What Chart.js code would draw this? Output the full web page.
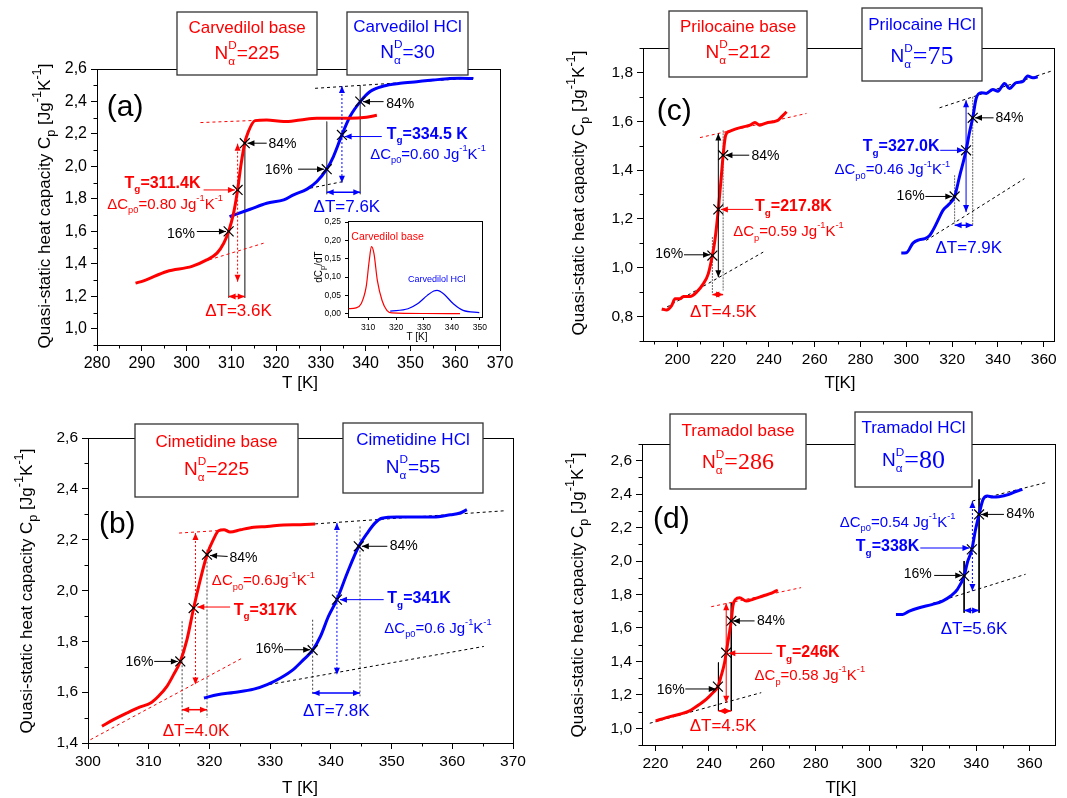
<!DOCTYPE html>
<html lang="en">
<head>
<meta charset="UTF-8">
<title>Quasi-static heat capacity of drugs</title>
<script src="https://cdn.jsdelivr.net/npm/chart.js"></script>
<style>
  body { margin:0; background:#fff; width:1067px; height:798px; overflow:hidden; position:relative; }
  .panel { position:absolute; }
</style>
</head>
<body>
<div class="panel" style="left:0;top:0;width:533px;height:400px"><canvas id="chartA"></canvas></div>
<div class="panel" style="left:305px;top:212px;width:185px;height:135px"><canvas id="inset"></canvas></div>
<div class="panel" style="left:533px;top:0;width:534px;height:400px"><canvas id="chartC"></canvas></div>
<div class="panel" style="left:0;top:400px;width:533px;height:398px"><canvas id="chartB"></canvas></div>
<div class="panel" style="left:533px;top:400px;width:534px;height:398px"><canvas id="chartD"></canvas></div>
<script>
// ---- values ----
// (a) Carvedilol
const carvBaseT  = [288.6,290.4,295.6,301.2,304.5,306.8,308.3,309.4,310.5,311.4,312.1,313.0,313.8,315.3,317.9,321.7,325.4,329.1,332.8,336.5,340.2,342.5];
const carvBaseCp = [1.281,1.295,1.353,1.384,1.424,1.466,1.527,1.600,1.712,1.855,2.000,2.143,2.214,2.282,2.286,2.276,2.286,2.296,2.296,2.296,2.303,2.315];
const carvHclT   = [309.6,314.2,317.9,321.7,323.9,326.9,329.1,331.3,332.8,334.7,336.5,338.8,341.0,344.0,347.7,351.4,355.1,358.8,361.1,364.0];
const carvHclCp  = [1.691,1.736,1.773,1.794,1.825,1.860,1.907,1.983,2.061,2.194,2.307,2.399,2.461,2.495,2.512,2.522,2.532,2.541,2.543,2.541];
const carvBaseMarkT = [309.4,311.4,313.0], carvBaseMarkCp = [1.600,1.855,2.143];
const carvHclMarkT  = [331.3,334.7,338.8], carvHclMarkCp  = [1.983,2.194,2.399];
const carvBaseTanHi = [[303.1,2.270],[316.0,2.284]], carvBaseTanLo = [[303.8,1.414],[317.2,1.527]];
const carvHclTanHi  = [[328.7,2.481],[364.4,2.545]], carvHclTanLo  = [[327.6,1.866],[335.0,1.907]];
// (a) inset dCp/dT
const insetBaseT = [302.8,305.7,307.5,309.3,310.4,311.2,312.1,313.3,315.0,316.7,318.5,330.0,342.9];
const insetBaseD = [0.0136,0.016,0.027,0.073,0.145,0.183,0.164,0.091,0.036,0.009,0.002,0.0005,0.0];
const insetHclT  = [317.9,324.3,327.7,331.2,333.5,334.7,337.0,340.5,344.0,349.8];
const insetHclD  = [0.007,0.0136,0.027,0.050,0.0618,0.0636,0.0545,0.027,0.009,0.003];
// (b) Cimetidine
const cimBaseT  = [302.3,304.2,306.4,308.6,310.3,311.6,313.0,314.1,315.2,316.3,317.4,318.5,319.6,320.7,321.5,322.4,323.4,325.1,327.3,329.5,332.2,335.0,337.4];
const cimBaseCp = [1.466,1.492,1.518,1.542,1.557,1.584,1.623,1.669,1.721,1.807,1.931,2.043,2.141,2.203,2.235,2.239,2.230,2.239,2.249,2.252,2.258,2.259,2.262];
const cimHclT   = [319.1,321.3,324.0,327.3,329.5,331.7,333.9,335.5,337.0,338.3,339.6,341.0,342.7,344.6,346.0,347.3,348.4,350.9,353.7,356.9,359.7,361.3,362.4];
const cimHclCp  = [1.577,1.590,1.599,1.612,1.630,1.656,1.691,1.728,1.765,1.820,1.898,1.964,2.069,2.174,2.226,2.266,2.284,2.289,2.289,2.289,2.298,2.305,2.318];
const cimBaseMarkT = [315.2,317.4,319.6], cimBaseMarkCp = [1.721,1.931,2.141];
const cimHclMarkT  = [337.0,341.0,344.6], cimHclMarkCp  = [1.765,1.964,2.174];
const cimBaseTanHi = [[315.0,2.226],[323.0,2.238]], cimBaseTanLo = [[300.4,1.413],[325.4,1.734]];
const cimHclTanHi  = [[337.4,2.262],[368.8,2.314]], cimHclTanLo  = [[328.9,1.626],[365.2,1.780]];
// (c) Prilocaine
const priBaseT  = [193.2,195.3,197.5,199.0,201.2,202.6,205.5,208.4,211.3,213.5,215.3,216.4,217.9,219.3,220.0,221.1,222.9,225.9,228.8,231.7,233.9,236.0,238.9,241.9,244.0,245.5,247.7];
const priBaseCp = [0.831,0.827,0.845,0.873,0.873,0.882,0.882,0.900,0.934,0.975,1.050,1.112,1.239,1.385,1.461,1.543,1.559,1.570,1.577,1.584,1.595,1.584,1.593,1.598,1.604,1.618,1.639];
const priHclT   = [297.8,300.0,302.9,305.8,308.0,310.2,311.6,313.8,316.0,318.2,321.1,323.2,326.1,327.6,329.0,330.5,332.7,334.9,337.8,340.0,342.9,345.0,348.0,350.8,353.0,355.2,357.4];
const priHclCp  = [1.060,1.061,1.101,1.115,1.119,1.132,1.153,1.194,1.235,1.256,1.292,1.372,1.481,1.555,1.614,1.693,1.717,1.714,1.730,1.723,1.755,1.734,1.758,1.762,1.785,1.778,1.782];
const priBaseMarkT = [215.3,217.9,220.0], priBaseMarkCp = [1.050,1.239,1.461];
const priHclMarkT  = [321.1,326.1,329.0], priHclMarkCp  = [1.292,1.481,1.614];
const priBaseTanHi = [[209.9,1.533],[256.4,1.632]], priBaseTanLo = [[193.2,0.827],[237.5,1.064]];
const priHclTanHi  = [[314.5,1.655],[363.2,1.805]], priHclTanLo  = [[308.7,1.112],[351.6,1.365]];
// (d) Tramadol
const traBaseT  = [220.1,224.1,229.1,232.8,236.6,239.0,241.5,243.4,244.6,245.9,246.5,247.5,248.4,249.0,250.0,251.5,254.0,256.5,260.2,263.9,265.8];
const traBaseCp = [1.044,1.064,1.084,1.104,1.144,1.173,1.213,1.249,1.313,1.393,1.452,1.552,1.642,1.731,1.771,1.781,1.761,1.771,1.791,1.811,1.827];
const traHclT   = [310.0,312.5,315.0,318.7,323.7,327.4,330.5,333.0,335.5,336.7,338.4,339.8,341.1,342.6,344.2,346.1,348.5,352.3,355.4,357.3];
const traHclCp  = [1.681,1.681,1.701,1.721,1.741,1.761,1.791,1.831,1.911,1.990,2.070,2.190,2.279,2.369,2.389,2.383,2.385,2.399,2.419,2.429];
const traBaseMarkT = [243.4,246.5,248.4], traBaseMarkCp = [1.249,1.452,1.642];
const traHclMarkT  = [335.5,338.4,341.1], traHclMarkCp  = [1.911,2.070,2.279];
const traBaseTanHi = [[240.9,1.727],[274.5,1.841]], traBaseTanLo = [[217.9,1.030],[259.6,1.213]];
const traHclTanHi  = [[338.6,2.359],[366.0,2.469]], traHclTanLo  = [[323.7,1.747],[358.5,1.921]];
// tick labels
const xTicksA = [280,290,300,310,320,330,340,350,360,370], yTicksA = [1.0,1.2,1.4,1.6,1.8,2.0,2.2,2.4,2.6];
const xTicksB = [300,310,320,330,340,350,360,370],         yTicksB = [1.4,1.6,1.8,2.0,2.2,2.4,2.6];
const xTicksC = [200,220,240,260,280,300,320,340,360],     yTicksC = [0.8,1.0,1.2,1.4,1.6,1.8];
const xTicksD = [220,240,260,280,300,320,340,360],         yTicksD = [1.0,1.2,1.4,1.6,1.8,2.0,2.2,2.4,2.6];
const insetXTicks = [310,320,330,340,350], insetYTicks = [0,0.05,0.10,0.15,0.20,0.25];

const FONT = '"Liberation Sans", Arial, sans-serif';
const SERIF = '"Liberation Serif", "Times New Roman", serif';
const RED = '#ff0000', BLUE = '#0000ff';

// ---- small rich-text helper: T_{g}, Jg^{-1}, N^{D}_{α}, '|' switches to serif ----
function parseRich(str) {
  const segs = []; let buf = '', serif = false, i = 0;
  const push = () => { if (buf) { segs.push({ t: buf, m: 'n', serif }); buf = ''; } };
  while (i < str.length) {
    const c = str[i];
    if ((c === '_' || c === '^') && str[i + 1] === '{') {
      push();
      const j = str.indexOf('}', i);
      segs.push({ t: str.slice(i + 2, j), m: c === '_' ? 'sub' : 'sup', serif });
      i = j + 1; continue;
    }
    if (c === '|') { push(); serif = true; i++; continue; }
    buf += c; i++;
  }
  push();
  return segs;
}
function drawRich(ctx, str, x, y, o) {
  ctx.save();
  ctx.translate(x, y);
  if (o.rot) ctx.rotate(o.rot);
  let cx = 0, sup = null;
  const items = [];
  parseRich(str).forEach(s => {
    const base = s.serif ? (o.serifSize || o.size) : o.size;
    const sz = s.m === 'n' ? base : base * (o.subScale || 0.62);
    const font = (o.bold ? 'bold ' : '') + sz + 'px ' + (s.serif ? SERIF : FONT);
    ctx.font = font;
    const w = ctx.measureText(s.t).width;
    let sx = cx;
    if (s.m === 'sub' && sup) sx = sup.x;
    const dy = s.m === 'sub' ? o.size * 0.4 : s.m === 'sup' ? -o.size * 0.42 : 0;
    items.push({ t: s.t, x: sx, dy, font });
    if (s.m === 'sub' && sup) { cx = Math.max(sup.end, sx + w); sup = null; }
    else { cx = sx + w; sup = s.m === 'sup' ? { x: sx, end: sx + w } : null; }
  });
  const x0 = o.align === 'center' ? -cx / 2 : o.align === 'right' ? -cx : 0;
  ctx.fillStyle = o.color || '#000';
  ctx.textBaseline = 'middle';
  ctx.textAlign = 'left';
  items.forEach(it => { ctx.font = it.font; ctx.fillText(it.t, x0 + it.x, it.dy); });
  ctx.restore();
}
function drawArrow(ctx, x1, y1, x2, y2, color, w, dash, both) {
  const a = Math.atan2(y2 - y1, x2 - x1), L = 7, H = 3;
  ctx.save();
  ctx.strokeStyle = color; ctx.fillStyle = color; ctx.lineWidth = w;
  ctx.setLineDash(dash || []);
  ctx.beginPath(); ctx.moveTo(x1, y1); ctx.lineTo(x2, y2); ctx.stroke();
  ctx.setLineDash([]);
  const head = (x, y, t) => {
    ctx.beginPath(); ctx.moveTo(x, y);
    ctx.lineTo(x - L * Math.cos(t) + H * Math.sin(t), y - L * Math.sin(t) - H * Math.cos(t));
    ctx.lineTo(x - L * Math.cos(t) - H * Math.sin(t), y - L * Math.sin(t) + H * Math.cos(t));
    ctx.closePath(); ctx.fill();
  };
  head(x2, y2, a);
  if (both) head(x1, y1, a + Math.PI);
  ctx.restore();
}

const xy = (ts, ys) => ts.map((t, i) => ({ x: t, y: ys[i] }));

function deco(p) {
  return {
    id: 'deco',
    afterDraw(chart) {
      const ctx = chart.ctx, a = chart.chartArea, X = chart.scales.x, Y = chart.scales.y;
      const px = v => X.getPixelForValue(v), py = v => Y.getPixelForValue(v);
      ctx.save();
      ctx.strokeStyle = '#000'; ctx.lineWidth = 1;
      ctx.strokeRect(Math.round(a.left) + 0.5, Math.round(a.top) + 0.5, Math.round(a.right - a.left), Math.round(a.bottom - a.top));
      // minor ticks
      ctx.beginPath();
      if (p.xMinor) for (let v = Math.ceil(p.x[0] / p.xMinor) * p.xMinor; v <= p.x[1] + 1e-9; v += p.xMinor) {
        if (p.xt.some(m => Math.abs(m - v) < 1e-6)) continue;
        const xx = Math.round(px(v)) + 0.5; ctx.moveTo(xx, a.bottom); ctx.lineTo(xx, a.bottom + 3.5);
      }
      if (p.yMinor) for (let v = Math.ceil(p.y[0] / p.yMinor - 1e-6) * p.yMinor; v <= p.y[1] + 1e-9; v += p.yMinor) {
        if (p.yt.some(m => Math.abs(m - v) < 1e-6)) continue;
        const yy = Math.round(py(v)) + 0.5; ctx.moveTo(a.left, yy); ctx.lineTo(a.left - 3.5, yy);
      }
      ctx.stroke();
      p.notes.forEach(n => {
        if (n.k === 'arrow') drawArrow(ctx, px(n.a[0]), py(n.a[1]), px(n.b[0]), py(n.b[1]), n.c || '#000', n.w || 1, n.dash, n.both);
        else drawRich(ctx, n.s, px(n.x), py(n.y), { size: n.size || 15, bold: n.bold, color: n.c || '#000', align: n.al || 'left' });
      });
      p.boxes.forEach(b => {
        const [l, t, r, bt] = b.r;
        ctx.fillStyle = '#fff'; ctx.fillRect(l, t, r - l, bt - t);
        ctx.strokeStyle = '#333'; ctx.lineWidth = 1.3; ctx.strokeRect(l, t, r - l, bt - t);
        drawRich(ctx, b.name, (l + r) / 2, b.ny[0], { size: 17, color: b.c, align: 'center' });
        drawRich(ctx, b.n, (l + r) / 2, b.ny[1], { size: 19, color: b.c, align: 'center', serifSize: b.ss });
      });
      const ts = p.titleSize || 17;
      drawRich(ctx, p.yTitleStr || 'Quasi-static heat capacity C_{p} [Jg^{-1}K^{-1}]', p.yTitle[0], p.yTitle[1],
        { size: ts, align: 'center', rot: -Math.PI / 2, subScale: 0.75 });
      drawRich(ctx, p.xLabel, p.xTitle[0], p.xTitle[1], { size: ts, align: 'center' });
      ctx.restore();
    }
  };
}

function panel(id, p) {
  const ds = [];
  p.marks.forEach(m => ds.push({ data: xy(m[0], m[1]), showLine: false, pointStyle: 'crossRot', pointRadius: 7, borderColor: '#000', borderWidth: 1.2 }));
  p.curves.forEach(c => ds.push({ data: xy(c[0], c[1]), showLine: true, pointRadius: 0, borderColor: c[2], borderWidth: c[3] || 3, cubicInterpolationMode: 'monotone' }));
  p.tangents.forEach(t => ds.push({ data: t[0].map(q => ({ x: q[0], y: q[1] })), showLine: true, pointRadius: 0, borderColor: t[1], borderWidth: 1, borderDash: [3, 3] }));
  p.bounds.forEach(b => ds.push({ data: [{ x: b.x, y: b.y1 }, { x: b.x, y: b.y2 }], showLine: true, pointRadius: 0, borderColor: b.c || '#444', borderWidth: 1, borderDash: b.dash || [] }));
  const tl = p.tickLen || 6, tsz = p.tickSize || 15.5;
  return new Chart(document.getElementById(id), {
    type: 'scatter',
    data: { datasets: ds },
    options: {
      responsive: true, maintainAspectRatio: false, animation: false, events: [],
      layout: { padding: { top: p.pad[0], right: p.pad[1], bottom: 0, left: 0 } },
      plugins: { legend: { display: false }, tooltip: { enabled: false } },
      scales: {
        x: {
          type: 'linear', min: p.x[0], max: p.x[1],
          afterFit: s => { s.height = p.xh; },
          afterBuildTicks: s => { s.ticks = p.xt.map(v => ({ value: v })); },
          ticks: { color: '#000', font: { family: FONT, size: tsz }, padding: 3, maxRotation: 0, autoSkip: false, callback: v => String(v) },
          grid: { drawOnChartArea: false, drawTicks: true, tickLength: tl, color: '#000' },
          border: { color: '#000' }
        },
        y: {
          type: 'linear', min: p.y[0], max: p.y[1],
          afterFit: s => { s.width = p.yw; },
          afterBuildTicks: s => { s.ticks = p.yt.map(v => ({ value: v })); },
          ticks: { color: '#000', font: { family: FONT, size: tsz }, padding: 4, autoSkip: false,
                   callback: p.yFmt || (v => v.toFixed(1).replace('.', ',')) },
          grid: { drawOnChartArea: false, drawTicks: true, tickLength: tl, color: '#000' },
          border: { color: '#000' }
        }
      }
    },
    plugins: [deco(p)]
  });
}

// (a) Carvedilol
panel('chartA', {
  x: [280, 370], y: [0.9, 2.6], pad: [69, 33], xh: 55, yw: 97,
  xt: xTicksA, yt: yTicksA, xMinor: 5, yMinor: 0.1, tickSize: 16,
  marks: [[carvBaseMarkT, carvBaseMarkCp], [carvHclMarkT, carvHclMarkCp]],
  curves: [[carvBaseT, carvBaseCp, RED], [carvHclT, carvHclCp, BLUE]],
  tangents: [[carvBaseTanHi, RED], [carvBaseTanLo, RED], [carvHclTanHi, '#000'], [carvHclTanLo, '#000']],
  bounds: [{ x: 309.4, y1: 1.62, y2: 1.19, c: '#666' }, { x: 313.0, y1: 2.17, y2: 1.19, c: '#666' },
           { x: 331.3, y1: 2.276, y2: 1.829, c: '#666' }, { x: 338.8, y1: 2.50, y2: 1.829, c: '#666' }],
  notes: [
    { s: '(a)', x: 282.2, y: 2.364, size: 30 },
    { s: '84%', x: 318.3, y: 2.138, size: 14 }, { k: 'arrow', a: [317.9, 2.143], b: [313.6, 2.143] },
    { s: 'T_{g}=311.4K', x: 303.1, y: 1.896, size: 16, bold: true, c: RED, al: 'right' },
    { k: 'arrow', a: [303.8, 1.855], b: [310.8, 1.855], c: RED },
    { s: 'ΔC_{p0}=0.80 Jg^{-1}K^{-1}', x: 295.2, y: 1.763, size: 15, c: RED, al: 'center' },
    { s: '16%', x: 301.9, y: 1.583, size: 14, al: 'right' }, { k: 'arrow', a: [302.3, 1.599], b: [308.8, 1.599] },
    { k: 'arrow', a: [311.4, 2.14], b: [311.4, 1.29], c: RED, dash: [2, 2], both: true },
    { k: 'arrow', a: [309.4, 1.199], b: [313.0, 1.199], c: RED, w: 1.5, both: true },
    { s: 'ΔT=3.6K', x: 311.6, y: 1.107, size: 17, c: RED, al: 'center' },
    { s: '84%', x: 344.6, y: 2.383, size: 14 }, { k: 'arrow', a: [344.0, 2.399], b: [339.4, 2.399] },
    { s: 'T_{g}=334.5 K', x: 344.7, y: 2.198, size: 16, bold: true, c: BLUE },
    { k: 'arrow', a: [343.6, 2.184], b: [335.3, 2.184], c: BLUE },
    { s: 'ΔC_{p0}=0.60 Jg^{-1}K^{-1}', x: 341.0, y: 2.071, size: 15, c: BLUE },
    { s: '16%', x: 323.7, y: 1.974, size: 14, al: 'right' }, { k: 'arrow', a: [324.9, 1.983], b: [330.7, 1.983] },
    { k: 'arrow', a: [334.7, 2.495], b: [334.7, 1.90], c: BLUE, dash: [2, 2], both: true },
    { k: 'arrow', a: [331.3, 1.841], b: [338.8, 1.841], c: BLUE, w: 1.5, both: true },
    { s: 'ΔT=7.6K', x: 335.8, y: 1.749, size: 17, c: BLUE, al: 'center' }
  ],
  boxes: [{ r: [177, 12, 317, 75], c: RED, name: 'Carvedilol base', n: 'N^{D}_{α}=225', ny: [28, 54] },
          { r: [347, 12, 468, 75], c: BLUE, name: 'Carvedilol HCl', n: 'N^{D}_{α}=30', ny: [27, 53] }],
  yTitle: [45, 206], xTitle: [300, 383], xLabel: 'T [K]'
});

// (a) inset
panel('inset', {
  x: [302.8, 350.6], y: [-0.009, 0.2527], pad: [9, 5], xh: 30, yw: 43,
  xt: insetXTicks, yt: insetYTicks, xMinor: 0, yMinor: 0, tickSize: 8.5, tickLen: 3,
  yFmt: v => v.toFixed(2).replace('.', ','),
  marks: [], tangents: [], bounds: [],
  curves: [[insetBaseT, insetBaseD, RED, 1.2], [insetHclT, insetHclD, BLUE, 1.2]],
  notes: [{ s: 'Carvedilol base', x: 304.0, y: 0.209, size: 10.5, c: RED },
          { s: 'Carvedilol HCl', x: 324.3, y: 0.0927, size: 9, c: BLUE }],
  boxes: [], yTitleStr: 'dC_{p}/dT', titleSize: 10, yTitle: [14, 55], xTitle: [112, 125], xLabel: 'T [K]'
});

// (b) Cimetidine
panel('chartB', {
  x: [300, 370], y: [1.4, 2.6], pad: [38, 20], xh: 55, yw: 88,
  xt: xTicksB, yt: yTicksB, xMinor: 5, yMinor: 0.1,
  marks: [[cimBaseMarkT, cimBaseMarkCp], [cimHclMarkT, cimHclMarkCp]],
  curves: [[cimBaseT, cimBaseCp, RED], [cimHclT, cimHclCp, BLUE]],
  tangents: [[cimBaseTanHi, RED], [cimBaseTanLo, RED], [cimHclTanHi, '#000'], [cimHclTanLo, '#000']],
  bounds: [{ x: 315.5, y1: 1.879, y2: 1.492, dash: [2, 2] }, { x: 319.6, y1: 2.161, y2: 1.498, dash: [2, 2] },
           { x: 337.0, y1: 1.885, y2: 1.59, dash: [2, 2] }, { x: 344.8, y1: 2.252, y2: 1.584, dash: [2, 2] }],
  notes: [
    { s: '(b)', x: 301.8, y: 2.259, size: 30 },
    { s: '84%', x: 323.3, y: 2.128, size: 14 }, { k: 'arrow', a: [323.0, 2.134], b: [320.1, 2.138] },
    { s: 'ΔC_{p0}=0.6Jg^{-1}K^{-1}', x: 320.4, y: 2.036, size: 15, c: RED },
    { s: 'T_{g}=317K', x: 324.0, y: 1.922, size: 16, bold: true, c: RED },
    { k: 'arrow', a: [323.4, 1.935], b: [318.0, 1.935], c: RED },
    { s: '16%', x: 310.8, y: 1.719, size: 14, al: 'right' }, { k: 'arrow', a: [310.9, 1.721], b: [314.8, 1.721] },
    { k: 'arrow', a: [317.7, 2.226], b: [317.7, 1.630], c: RED, dash: [2, 2], both: true },
    { k: 'arrow', a: [315.5, 1.531], b: [319.6, 1.531], c: RED, w: 1.5, both: true },
    { s: 'ΔT=4.0K', x: 317.8, y: 1.446, size: 17, c: RED, al: 'center' },
    { s: '84%', x: 349.7, y: 2.174, size: 14 }, { k: 'arrow', a: [349.3, 2.174], b: [345.1, 2.174] },
    { s: 'T_{g}=341K', x: 349.3, y: 1.967, size: 16, bold: true, c: BLUE },
    { k: 'arrow', a: [348.7, 1.964], b: [341.5, 1.964], c: BLUE },
    { s: 'ΔC_{p0}=0.6 Jg^{-1}K^{-1}', x: 348.8, y: 1.849, size: 15, c: BLUE },
    { s: '16%', x: 332.2, y: 1.770, size: 14, al: 'right' }, { k: 'arrow', a: [332.3, 1.767], b: [336.6, 1.767] },
    { k: 'arrow', a: [341.0, 2.266], b: [341.0, 1.669], c: BLUE, dash: [2, 2], both: true },
    { k: 'arrow', a: [337.0, 1.597], b: [344.8, 1.597], c: BLUE, w: 1.5, both: true },
    { s: 'ΔT=7.8K', x: 340.9, y: 1.525, size: 17, c: BLUE, al: 'center' }
  ],
  boxes: [{ r: [135, 24, 298, 97], c: RED, name: 'Cimetidine base', n: 'N^{D}_{α}=225', ny: [42, 70] },
          { r: [343, 23, 483, 93], c: BLUE, name: 'Cimetidine HCl', n: 'N^{D}_{α}=55', ny: [40, 68] }],
  yTitle: [27, 191], xTitle: [300, 388], xLabel: 'T [K]'
});

// (c) Prilocaine
panel('chartC', {
  x: [185, 364.5], y: [0.7, 1.9], pad: [48, 13], xh: 59, yw: 110,
  xt: xTicksC, yt: yTicksC, xMinor: 10, yMinor: 0.1,
  marks: [[priBaseMarkT, priBaseMarkCp], [priHclMarkT, priHclMarkCp]],
  curves: [[priBaseT, priBaseCp, RED], [priHclT, priHclCp, BLUE]],
  tangents: [[priBaseTanHi, RED], [priBaseTanLo, '#000'], [priHclTanHi, '#000'], [priHclTanLo, '#000']],
  bounds: [{ x: 215.3, y1: 1.126, y2: 0.893, c: '#666', dash: [2, 1] }, { x: 220.0, y1: 1.563, y2: 0.907, c: '#666', dash: [2, 1] },
           { x: 321.1, y1: 1.379, y2: 1.18, c: '#666', dash: [2, 1] }, { x: 329.0, y1: 1.70, y2: 1.174, c: '#666', dash: [2, 1] }],
  notes: [
    { s: '(c)', x: 191.0, y: 1.639, size: 30 },
    { s: '84%', x: 232.4, y: 1.457, size: 14 }, { k: 'arrow', a: [231.4, 1.461], b: [221.0, 1.461] },
    { s: 'T_{g}=217.8K', x: 233.9, y: 1.249, size: 16, bold: true, c: RED },
    { k: 'arrow', a: [233.1, 1.239], b: [219.0, 1.239], c: RED },
    { s: 'ΔC_{p}=0.59 Jg^{-1}K^{-1}', x: 224.4, y: 1.146, size: 15, c: RED },
    { s: '16%', x: 202.6, y: 1.054, size: 14, al: 'right' }, { k: 'arrow', a: [202.9, 1.053], b: [214.3, 1.053] },
    { k: 'arrow', a: [217.9, 1.55], b: [217.9, 0.961], c: '#000', both: true },
    { k: 'arrow', a: [215.3, 0.890], b: [220.0, 0.890], c: RED, w: 1.5, both: true },
    { s: 'ΔT=4.5K', x: 220.1, y: 0.818, size: 17, c: RED, al: 'center' },
    { s: '84%', x: 338.9, y: 1.611, size: 14 }, { k: 'arrow', a: [338.1, 1.614], b: [330.0, 1.614] },
    { s: 'T_{g}=327.0K', x: 314.5, y: 1.495, size: 16, bold: true, c: BLUE, al: 'right' },
    { k: 'arrow', a: [314.8, 1.481], b: [325.2, 1.481], c: BLUE },
    { s: 'ΔC_{p0}=0.46 Jg^{-1}K^{-1}', x: 293.9, y: 1.399, size: 15, c: BLUE, al: 'center' },
    { s: '16%', x: 308.0, y: 1.292, size: 14, al: 'right' }, { k: 'arrow', a: [308.3, 1.292], b: [320.1, 1.292] },
    { k: 'arrow', a: [326.1, 1.686], b: [326.1, 1.228], c: BLUE, both: true },
    { k: 'arrow', a: [321.1, 1.174], b: [329.0, 1.174], c: BLUE, w: 1.5, both: true },
    { s: 'ΔT=7.9K', x: 327.3, y: 1.078, size: 17, c: BLUE, al: 'center' }
  ],
  boxes: [{ r: [136, 11, 274, 77], c: RED, name: 'Prilocaine base', n: 'N^{D}_{α}=212', ny: [27, 53] },
          { r: [329, 8, 449, 81], c: BLUE, name: 'Prilocaine HCl', n: 'N^{D}_{α}|=75', ny: [25, 57], ss: 26 }],
  yTitle: [46, 193], xTitle: [307, 383], xLabel: 'T[K]'
});

// (d) Tramadol
panel('chartD', {
  x: [215, 369.5], y: [0.9, 2.7], pad: [44, 12], xh: 53, yw: 109,
  xt: xTicksD, yt: yTicksD, xMinor: 10, yMinor: 0.1,
  marks: [[traBaseMarkT, traBaseMarkCp], [traHclMarkT, traHclMarkCp]],
  curves: [[traBaseT, traBaseCp, RED], [traHclT, traHclCp, BLUE]],
  tangents: [[traBaseTanHi, RED], [traBaseTanLo, '#000'], [traHclTanHi, '#000'], [traHclTanLo, '#000']],
  bounds: [{ x: 243.6, y1: 1.393, y2: 1.104, c: '#000' }, { x: 248.4, y1: 1.751, y2: 1.104, c: '#000' },
           { x: 335.5, y1: 2.0, y2: 1.691, c: '#000' }, { x: 341.1, y1: 2.488, y2: 1.691, c: '#000' }],
  notes: [
    { s: '(d)', x: 219.1, y: 2.249, size: 30 },
    { s: '84%', x: 258.0, y: 1.638, size: 14 }, { k: 'arrow', a: [257.1, 1.642], b: [249.0, 1.642] },
    { s: 'T_{g}=246K', x: 265.2, y: 1.452, size: 16, bold: true, c: RED },
    { k: 'arrow', a: [263.7, 1.448], b: [247.3, 1.448], c: RED },
    { s: 'ΔC_{p}=0.58 Jg^{-1}K^{-1}', x: 257.1, y: 1.313, size: 15, c: RED },
    { s: '16%', x: 231.0, y: 1.227, size: 14, al: 'right' }, { k: 'arrow', a: [231.2, 1.235], b: [242.6, 1.235] },
    { k: 'arrow', a: [246.5, 1.747], b: [246.5, 1.153], c: RED, both: true },
    { k: 'arrow', a: [243.6, 1.104], b: [248.4, 1.104], c: RED, w: 1.5, both: true },
    { s: 'ΔT=4.5K', x: 245.3, y: 1.014, size: 17, c: RED, al: 'center' },
    { s: '84%', x: 351.3, y: 2.279, size: 14 }, { k: 'arrow', a: [350.4, 2.279], b: [341.8, 2.279] },
    { s: 'ΔC_{p0}=0.54 Jg^{-1}K^{-1}', x: 310.6, y: 2.229, size: 15, c: BLUE, al: 'center' },
    { s: 'T_{g}=338K', x: 295.0, y: 2.084, size: 16, bold: true, c: BLUE },
    { k: 'arrow', a: [319.1, 2.078], b: [337.5, 2.078], c: BLUE },
    { s: '16%', x: 323.4, y: 1.921, size: 14, al: 'right' }, { k: 'arrow', a: [324.3, 1.914], b: [334.8, 1.914] },
    { k: 'arrow', a: [338.6, 2.359], b: [338.6, 1.821], c: BLUE, dash: [2, 2], both: true },
    { k: 'arrow', a: [335.5, 1.705], b: [341.1, 1.705], c: BLUE, w: 1.5, both: true },
    { s: 'ΔT=5.6K', x: 339.2, y: 1.592, size: 17, c: BLUE, al: 'center' }
  ],
  boxes: [{ r: [137, 14, 273, 89], c: RED, name: 'Tramadol base', n: 'N^{D}_{α}|=286', ny: [31, 63], ss: 24 },
          { r: [322, 12, 439, 87], c: BLUE, name: 'Tramadol HCl', n: 'N^{D}_{α}|=80', ny: [28, 61], ss: 26 }],
  yTitle: [45, 195], xTitle: [308, 388], xLabel: 'T[K]'
});
</script>
</body>
</html>
